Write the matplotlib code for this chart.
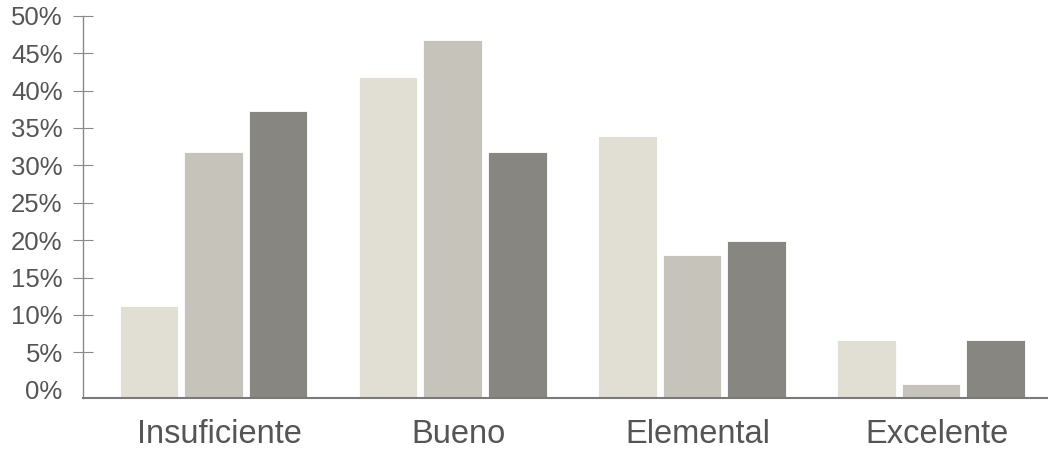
import matplotlib
matplotlib.use("Agg")
import matplotlib.pyplot as plt
import matplotlib.transforms as mtransforms
import numpy as np

categories = ["Insuficiente", "Bueno", "Elemental", "Excelente"]
series_a = [11.2, 41.8, 33.9, 6.7]
series_b = [31.8, 46.7, 18.0, 0.8]
series_c = [37.2, 31.8, 19.9, 6.7]
y_ticks = [0, 5, 10, 15, 20, 25, 30, 35, 40, 45, 50]
y_tick_labels = [f"{t}%" for t in y_ticks]

colors = ["#E1DFD4", "#C6C3BB", "#878680"]
plt.rcParams['font.family'] = ['Liberation Sans', 'DejaVu Sans']

fig = plt.figure(figsize=(10.48, 4.49), dpi=100)
ax = fig.add_axes([0.0795, 0.1143, 0.9205, 0.8507])

ymin = -1.06
x = np.arange(len(categories))
w = 0.245
off = 0.27
for i, (vals, c) in enumerate(zip([series_a, series_b, series_c], colors)):
    heights = [v - ymin for v in vals]
    ax.bar(x + (i - 1) * off, heights, width=w, bottom=ymin, color=c,
           edgecolor="white", linewidth=0.6, zorder=2)

ax.set_xlim(-0.544, 3.489)
ax.set_ylim(ymin, 50)
ax.set_yticks(y_ticks)
ax.set_yticklabels(y_tick_labels)
ax.set_xticks(x)
ax.set_xticklabels(categories)

for s in ["top", "right"]:
    ax.spines[s].set_visible(False)
ax.spines["left"].set_color("#8a8a8a")
ax.spines["left"].set_linewidth(1.0)
ax.spines["left"].set_bounds(ymin, 50)
ax.spines["bottom"].set_color("#7a7a7a")
ax.spines["bottom"].set_linewidth(1.5)

ax.tick_params(axis="y", direction="inout", length=13.7, width=0.8,
               color="#8a8a8a", labelsize=18.5, labelcolor="#555555", pad=8)
ax.tick_params(axis="x", length=0, labelsize=23.5, labelcolor="#555555", pad=15)

# no tick mark at 0%
ax.yaxis.get_major_ticks()[0].tick1line.set_visible(False)

# category labels sit slightly right of group centres in the reference
shift = mtransforms.ScaledTranslation(6 / 100, 0, fig.dpi_scale_trans)
for lbl in ax.get_xticklabels():
    lbl.set_transform(lbl.get_transform() + shift)

fig.savefig("out.png", dpi=100)
